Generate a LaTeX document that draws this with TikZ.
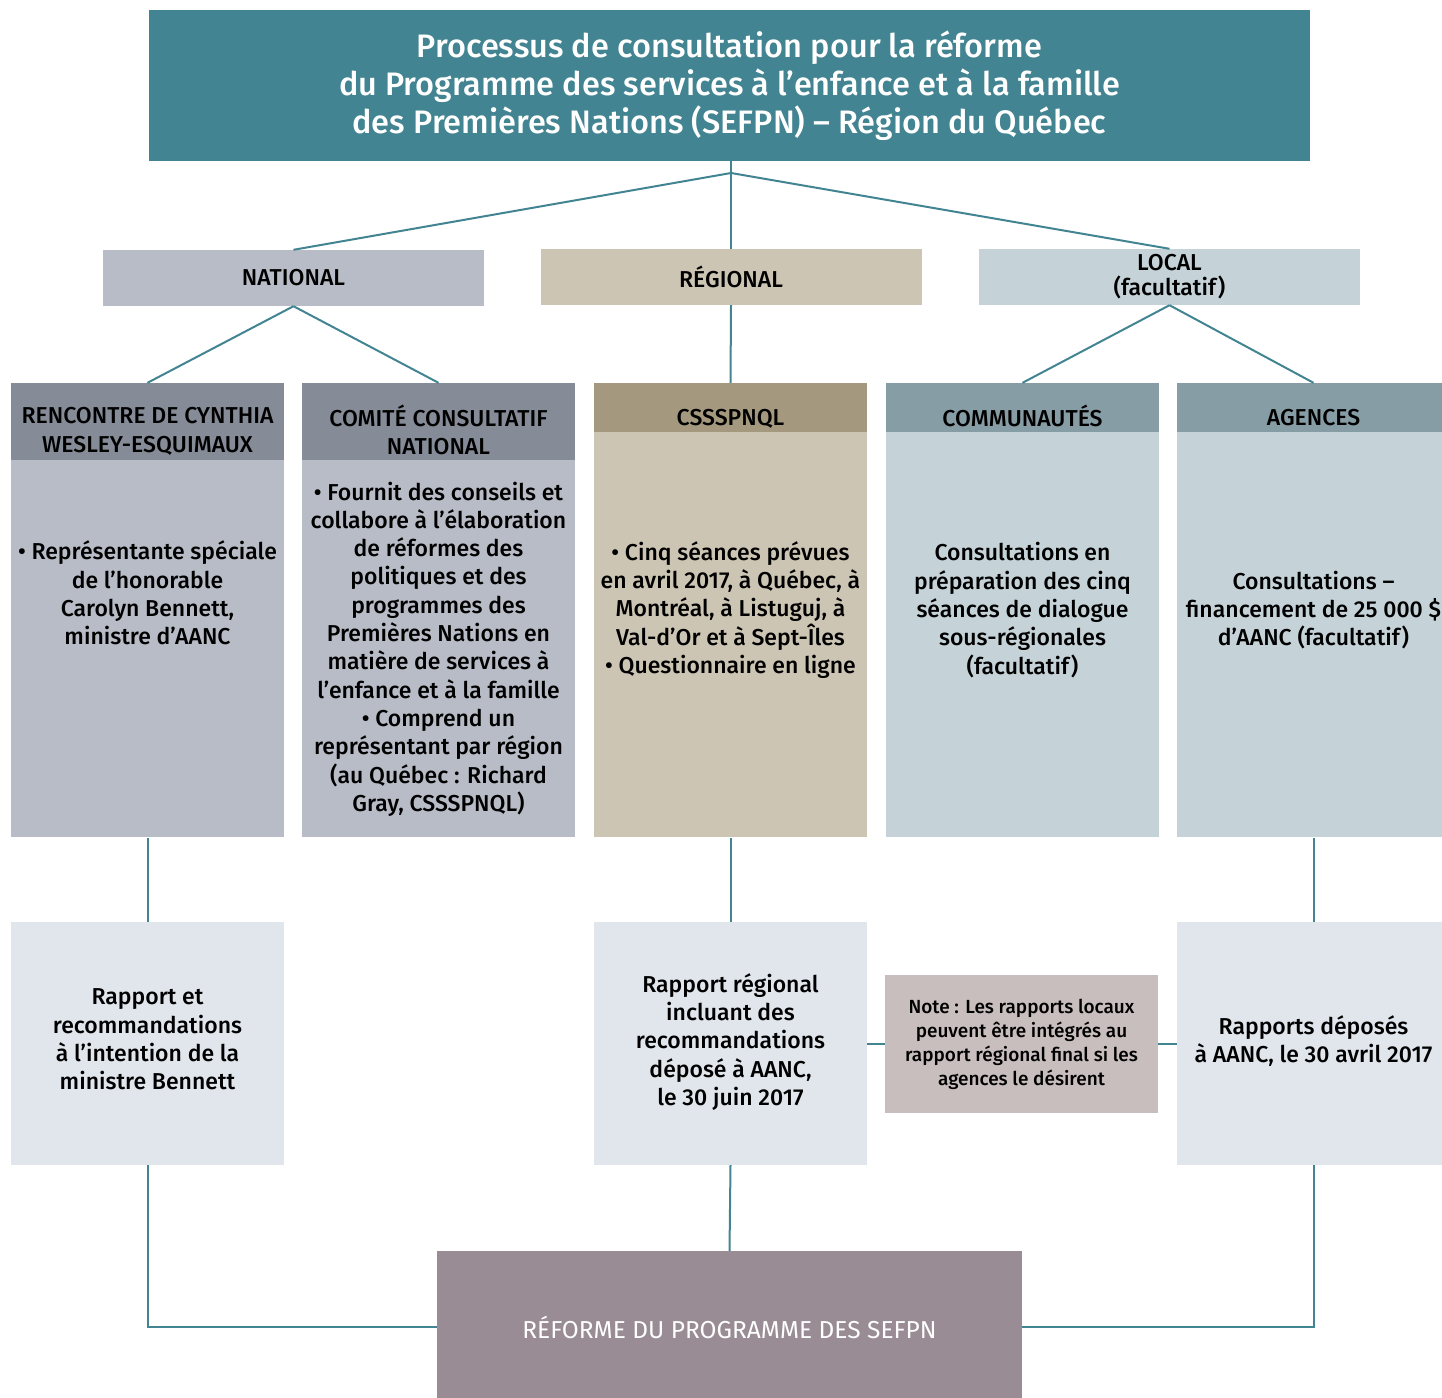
\documentclass[tikz,border=0pt]{standalone}
\usepackage{fontspec}
\setmainfont{Fira Sans}[UprightFont={* Medium}]
\newfontfamily\plainfont{Fira Sans}
\usetikzlibrary{positioning}
\definecolor{titleTeal}{RGB}{66,132,145}
\definecolor{natLight}{RGB}{184,188,198}
\definecolor{natDark}{RGB}{133,139,151}
\definecolor{regLight}{RGB}{205,197,180}
\definecolor{regDark}{RGB}{164,152,126}
\definecolor{locLight}{RGB}{197,211,216}
\definecolor{locDark}{RGB}{135,157,166}
\definecolor{reportBg}{RGB}{225,230,237}
\definecolor{noteBg}{RGB}{200,190,189}
\definecolor{reformBg}{RGB}{154,140,148}
\newcommand{\ColW}{273}
\tikzset{
  conn/.style={draw=titleTeal, line width=2pt},
  cell/.style={inner sep=0pt, minimum width=\ColW, align=center},
  lvl/.style={cell, minimum width=381, minimum height=56,
    font=\fontsize{23}{25}\selectfont},            % national / regional / local
  txt/.style={inner sep=0pt, align=center, font=\fontsize{23}{28.3}\selectfont},
  strutted/.style={txt, execute at begin node=\strut, execute at end node=\strut},
  head/.style={cell, label={[strutted, font=\fontsize{23}{28.3}\selectfont,
    yshift=-12.5pt]center:#1}},
  body/.style={cell, anchor=north},
  report/.style={cell, fill=reportBg, minimum height=243,
    label={[strutted]center:#1}}
}
\begin{document}
\begin{tikzpicture}[x=1pt, y=-1pt]
  \useasboundingbox (0,0) rectangle (1442,1397);
  \clip (0,0) rectangle (1442,1397);
  % title
  \node[cell, fill=titleTeal, minimum width=1161, minimum height=151,
    text=white, font=\fontsize{32.5}{38}\selectfont] (title) at (729.5,85.5)
    {Processus de consultation pour la réforme\\
     du Programme des services à l’enfance et à la famille\\
     des Premières Nations (SEFPN) – Région du Québec};
  \coordinate (fork) at (731,173);
  % second level
  \node[lvl, fill=natLight] (nat) at (293.5,278) {NATIONAL};
  \node[lvl, fill=regLight] (reg) at (731,277) {RÉGIONAL};
  \node[lvl, fill=locLight] (loc) at (1169.5,277) {LOCAL\\(facultatif)};
  \draw[conn] (title.south -| fork) -- (reg.north);
  \draw[conn] (fork) -- (nat.north);
  \draw[conn] (fork) -- (loc.north);
  % columns
  \node[head={RENCONTRE DE CYNTHIA\\WESLEY-ESQUIMAUX}, fill=natDark,
    minimum height=77] (cynH) at (147.5,421.5) {};
  \node[body, fill=natLight, minimum height=377] (cynB) at (cynH.south) {};
  \node[head={COMITÉ CONSULTATIF\\NATIONAL}, fill=natDark,
    minimum height=77] (comH) at (438.5,421.5) {};
  \node[body, fill=natLight, minimum height=377] (comB) at (comH.south) {};
  \node[head=CSSSPNQL, fill=regDark, minimum height=49] (cssH) at (730.5,407.5) {};
  \node[body, fill=regLight, minimum height=405] (cssB) at (cssH.south) {};
  \node[head=COMMUNAUTÉS, fill=locDark, minimum height=49] (comuH) at (1022.5,407.5) {};
  \node[body, fill=locLight, minimum height=405] (comuB) at (comuH.south) {};
  \node[head=AGENCES, fill=locDark, minimum height=49] (agH) at (1313.5,407.5) {};
  \node[body, fill=locLight, minimum height=405] (agB) at (agH.south) {};
  \draw[conn] (nat.south) -- (cynH.north);
  \draw[conn] (nat.south) -- (comH.north);
  \draw[conn] (reg.south) -- (cssH.north);
  \draw[conn] (loc.south) -- (comuH.north);
  \draw[conn] (loc.south) -- (agH.north);
  % column texts
  \node[txt] (cynT) at (147.5,593)
    {• Représentante spéciale\\de l’honorable\\Carolyn Bennett,\\ministre d’AANC};
  \node[txt] (comT) at (438.5,649)
    {• Fournit des conseils et\\collabore à l’élaboration\\de réformes des\\politiques et des\\
     programmes des\\Premières Nations en\\matière de services à\\l’enfance et à la famille\\
     • Comprend un\\représentant par région\\(au Québec : Richard\\Gray, CSSSPNQL)};
  \node[txt] (cssT) at (730.5,610)
    {• Cinq séances prévues\\en avril 2017, à Québec, à\\Montréal, à Listuguj, à\\
     Val-d’Or et à Sept-Îles\\• Questionnaire en ligne};
  \node[txt] (comuT) at (1022.5,610)
    {Consultations en\\préparation des cinq\\séances de dialogue\\sous-régionales\\(facultatif)};
  \node[txt] (agT) at (1313.5,610)
    {Consultations –\\financement de 25 000 \$\\d’AANC (facultatif)};
  % reports
  \node[report={Rapport et\\recommandations\\à l’intention de la\\ministre Bennett}]
    (rapN) at (147.5,1043.5) {};
  \node[report={Rapport régional\\incluant des\\recommandations\\déposé à AANC,\\le 30 juin 2017}]
    (rapR) at (730.5,1043.5) {};
  \node[report={Rapports déposés\\à AANC, le 30 avril 2017}]
    (rapL) at (1313.5,1043.5) {};
  \draw[conn] (cynB.south) -- (rapN.north);
  \draw[conn] (cssB.south) -- (rapR.north);
  \draw[conn] (agB.south) -- (rapL.north);
  \draw[conn] (rapR.east) -- (rapL.west);
  \node[cell, fill=noteBg, minimum height=138, font=\fontsize{19}{24}\selectfont]
    (note) at (1021.5,1044)
    {Note : Les rapports locaux\\peuvent être intégrés au\\rapport régional final si les\\agences le désirent};
  % reform
  \node[cell, fill=reformBg, minimum width=585, minimum height=152, text=white,
    font=\plainfont\fontsize{24.5}{26}\selectfont] (reform) at (729.5,1327)
    {RÉFORME DU PROGRAMME DES SEFPN};
  \draw[conn] (rapN.south) |- (reform.west);
  \draw[conn] (rapR.south) -- (reform.north);
  \draw[conn] (rapL.south) |- (reform.east);
\end{tikzpicture}
\end{document}
